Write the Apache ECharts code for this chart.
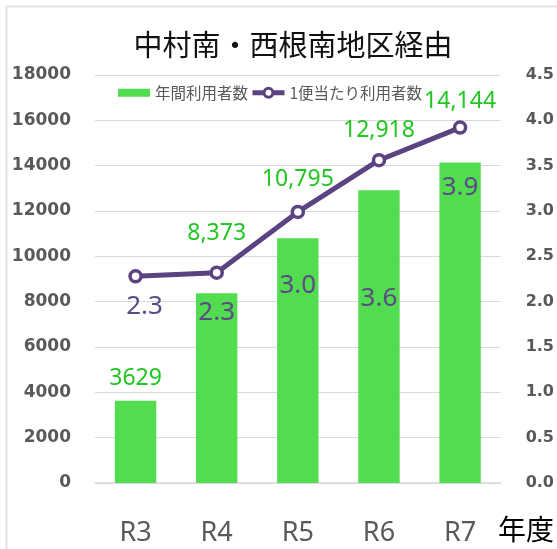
<!DOCTYPE html>
<html>
<head>
<meta charset="utf-8">
<script src="https://cdn.jsdelivr.net/npm/echarts@6/dist/echarts.min.js"></script>
<style>
  html, body { margin: 0; padding: 0; background: #fff; }
  #chart { width: 557px; height: 549px; }
</style>
</head>
<body>
<div id="chart"></div>
<script>
const years = ['R3', 'R4', 'R5', 'R6', 'R7']
const annualUsers = [3629, 8373, 10795, 12918, 14144]
const annualLabels = ['3629', '8,373', '10,795', '12,918', '14,144']
const perTrip = [2.28, 2.32, 2.99, 3.56, 3.92]
const perTripLabels = ['2.3', '2.3', '3.0', '3.6', '3.9']

// hand-placed label offsets, as in the original sheet
const barLabelShift = [-6, -43, -42, -43, -44]
const lineLabelShift = [[9, 30], [0, 40], [0, 74], [0, 138], [0, 60]]

const jp = '"Noto Sans CJK JP", "Noto Sans", sans-serif'
const purple = '#5b4280'
const green = '#52dc50'

const chart = echarts.init(document.getElementById('chart'))

chart.setOption({
  animation: false,
  title: {
    text: '中村南・西根南地区経由',
    left: 288,
    textAlign: 'center',
    top: 25,
    textStyle: { fontFamily: jp, fontSize: 29, fontWeight: 'normal', color: '#111' }
  },
  legend: {
    left: 113,
    top: 80,
    itemWidth: 32,
    itemHeight: 11,
    itemGap: 2,
    itemTextGap: 4,
    textStyle: { fontFamily: jp, fontSize: 15.5, color: '#595959' },
    data: [
      { name: '年間利用者数', icon: 'path://M0,0h28v7h-28z' },
      { name: '1便当たり利用者数', lineStyle: { width: 5 }, itemStyle: { borderWidth: 3 } }
    ]
  },
  grid: { left: 95, right: 52, top: 75, bottom: 66 },
  xAxis: {
    type: 'category',
    data: years,
    axisLine: { lineStyle: { color: '#d9d9d9', width: 1.5 } },
    axisTick: { show: false },
    axisLabel: { fontFamily: '"Noto Sans", sans-serif', fontSize: 27, color: '#595959', margin: 37 }
  },
  yAxis: [
    {
      type: 'value', min: 0, max: 18000, interval: 2000,
      axisLabel: {
        fontFamily: '"DejaVu Sans", sans-serif', fontWeight: 'bold', fontSize: 17, color: '#595959', margin: 24,
        formatter: v => String(v)
      },
      splitLine: { lineStyle: { color: '#d9d9d9' } }
    },
    {
      type: 'value', min: 0, max: 4.5, interval: 0.5,
      axisLabel: {
        fontFamily: '"DejaVu Sans", sans-serif', fontWeight: 'bold', fontSize: 16, color: '#595959', margin: 25,
        formatter: v => v.toFixed(1)
      },
      splitLine: { show: false }
    }
  ],
  graphic: [
    {
      type: 'polyline',
      shape: { points: [[6.5, 560], [6.5, 6.5], [560, 6.5]] },
      style: { stroke: '#e3e3e3', lineWidth: 2, fill: null }
    },
    {
      type: 'text',
      left: 498,
      top: 515,
      style: { text: '年度', fontFamily: jp, fontSize: 28, fill: '#000' }
    }
  ],
  series: [
    {
      name: '年間利用者数',
      type: 'bar',
      barWidth: '51%',
      itemStyle: { color: green },
      data: annualUsers.map((v, i) => ({
        value: v,
        label: {
          show: true,
          position: 'top',
          distance: 5,
          offset: [0, barLabelShift[i]],
          formatter: annualLabels[i],
          fontFamily: '"Noto Sans", sans-serif',
          fontSize: 23,
          color: '#22c622'
        }
      }))
    },
    {
      name: '1便当たり利用者数',
      type: 'line',
      yAxisIndex: 1,
      symbol: 'circle',
      symbolSize: 11,
      lineStyle: { color: purple, width: 5 },
      itemStyle: { color: '#fff', borderColor: purple, borderWidth: 3.5 },
      z: 3,
      data: perTrip.map((v, i) => ({
        value: v,
        label: {
          show: true,
          position: 'inside',
          offset: lineLabelShift[i],
          formatter: perTripLabels[i],
          fontFamily: '"Noto Sans", sans-serif',
          fontSize: 26,
          color: '#5b4a86'
        }
      }))
    }
  ]
})
</script>
</body>
</html>
